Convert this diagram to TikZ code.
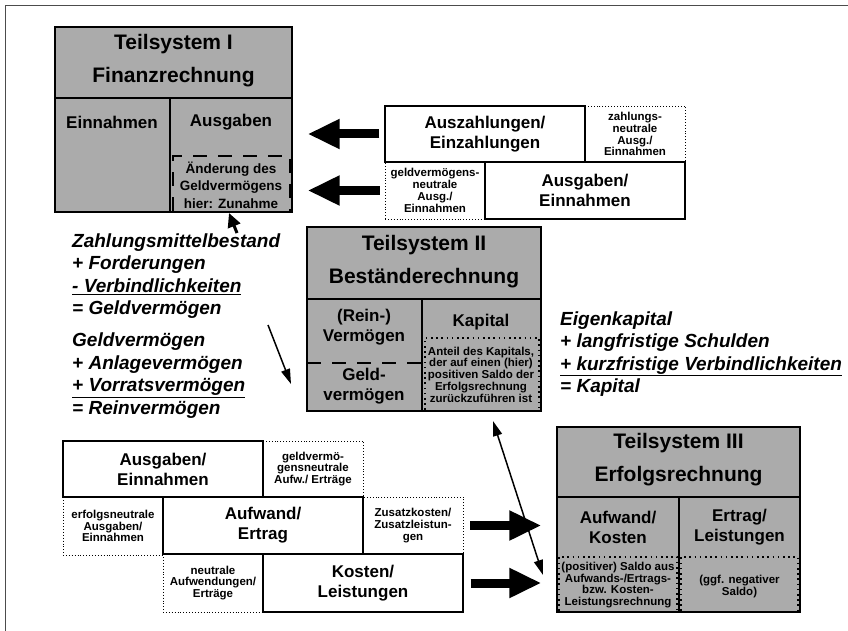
\documentclass[tikz,border=0pt]{standalone}
\usepackage{fontspec}
\setmainfont{Liberation Sans}
\usetikzlibrary{arrows.meta,positioning}
\tikzset{%
  sysbox/.style={draw, line width=1.4pt, fill=black!33, inner sep=0pt},
  solidbox/.style={draw, line width=1.1pt, fill=white, inner sep=0pt},
  dotbox/.style={draw, dotted, line width=0.9pt, inner sep=0pt},
  title/.style={font=\bfseries\fontsize{21}{33}\selectfont, align=center, inner sep=0pt},
  big/.style={font=\bfseries\fontsize{17}{20}\selectfont, align=center},
  mid/.style={font=\bfseries\fontsize{13.5}{17.5}\selectfont, align=center, inner sep=0pt},
  small/.style={font=\bfseries\fontsize{11.5}{11.8}\selectfont, align=center},
  calc/.style={font=\bfseries\itshape\fontsize{19}{22.5}\selectfont, align=left, anchor=west, inner sep=0pt},
  divline/.style={line width=1.4pt},
  dashline/.style={line width=1.8pt, dash pattern=on 14pt off 11pt},
  dotline/.style={line width=1.6pt, dash pattern=on 1.6pt off 3.6pt},
  fat arrow/.style={line width=9pt, -{Triangle[length=32pt,width=28pt]}},
  thin arrow/.style={line width=1.5pt, -{Triangle[length=15pt,width=9pt]}},
  stub arrow/.style={line width=3pt, -{Triangle[length=14pt,width=13pt]}}
}
\begin{document}
\begin{tikzpicture}[x=1pt,y=-1pt]
\useasboundingbox (0,0) rectangle (848,631);
\draw[black!70, line width=1pt] (5,631) -- (5,6) -- (848,6);

% Teilsystem I
\node[sysbox, minimum width=237pt, minimum height=185pt] (ts1) at (173.5,119.5) {};
\draw[divline] (55,98) -- (292,98);
\draw[divline] (170,98) -- (170,212);
\draw[dashline] (173,211) -- (173,156) -- (290,156) -- (290,211);
\node[title] (ts1t) at (173.5,61) {Teilsystem I\\Finanzrechnung};
\node[big] (ein1) at (112,122) {Einnahmen};
\node[big] (aus1) at (231,122) {Ausgaben};
\node[mid] (aend) at (231,185) {Änderung des\\Geldvermögens\\hier: Zunahme};

% boxes right of Teilsystem I
\node[solidbox, minimum width=200pt, minimum height=56pt, big] (auszahl) at (485,134) {Auszahlungen/\\Einzahlungen};
\node[dotbox, minimum width=100pt, minimum height=56pt, small] (zneutral) at (635,134) {zahlungs-\\neutrale\\Ausg./\\Einnahmen};
\node[dotbox, minimum width=100pt, minimum height=57pt, small] (gneutral) at (435,190.5) {geldvermögens-\\neutrale\\Ausg./\\Einnahmen};
\node[solidbox, minimum width=200pt, minimum height=57pt, big] (ausein) at (585,190.5) {Ausgaben/\\Einnahmen};

\draw[fat arrow, shorten <=5pt, shorten >=15pt] (auszahl.west) -- (auszahl.west -| ts1.east);
\draw[fat arrow, shorten <=5pt, shorten >=15pt] (gneutral.west) -- (gneutral.west -| ts1.east);

% Teilsystem II
\node[sysbox, minimum width=234pt, minimum height=184pt] (ts2) at (424,319) {};
\draw[divline] (307,299) -- (541,299);
\draw[divline] (422,299) -- (422,411);
\draw[dashline] (307,363) -- (422,363);
\draw[dotline] (425,410) -- (425,338) -- (539,338) -- (539,410);
\node[title] (ts2t) at (424,261.5) {Teilsystem II\\Beständerechnung};
\node[big] (rein) at (364,327.5) {(Rein-)\\Vermögen};
\node[big] (geld) at (364,386.5) {Geld-\\vermögen};
\node[big] (kap) at (481,322) {Kapital};
\node[small, inner sep=0pt] (anteil) at (481,374.5) {Anteil des Kapitals,\\der auf einen (hier)\\positiven Saldo der\\Erfolgsrechnung\\zurückzuführen ist};

% calculations
\node[calc] (geldv) at (72,276) {Zahlungsmittelbestand\\+ Forderungen\\\underline{- Verbindlichkeiten}\\= Geldvermögen};
\node[calc] (reinv) at (72,375.5) {Geldvermögen\\+ Anlagevermögen\\\underline{+ Vorratsvermögen}\\= Reinvermögen};
\node[calc] (kapital) at (560,354) {Eigenkapital\\+ langfristige Schulden\\\underline{+ kurzfristige Verbindlichkeiten}\\= Kapital};

\coordinate (upfoot) at (237,233);
\coordinate (uptip) at (229,213);
\draw[stub arrow] (upfoot) -- (uptip);
\coordinate (vtail) at (268,325);
\coordinate (vtip) at (291,384);
\draw[thin arrow] (vtail) -- (vtip);

% boxes left of Teilsystem III
\node[dotbox, minimum width=100pt, minimum height=56pt, small] (bgneutral) at (313,469) {geldvermö-\\gensneutrale\\Aufw./ Erträge};
\node[dotbox, minimum width=100pt, minimum height=58pt, small] (erfneutral) at (113,526) {erfolgsneutrale\\Ausgaben/\\Einnahmen};
\node[dotbox, minimum width=100pt, minimum height=57pt, small] (zusatz) at (413,525.5) {Zusatzkosten/\\Zusatzleistun-\\gen};
\node[dotbox, minimum width=100pt, minimum height=58pt, small] (neutral) at (213,583) {neutrale\\Aufwendungen/\\Erträge};
\node[solidbox, minimum width=200pt, minimum height=56pt, big] (bausein) at (163,469) {Ausgaben/\\Einnahmen};
\node[solidbox, minimum width=200pt, minimum height=57pt, big] (aufertrag) at (263,525.5) {Aufwand/\\Ertrag};
\node[solidbox, minimum width=200pt, minimum height=58pt, big] (kostlei) at (363,583) {Kosten/\\Leistungen};

% Teilsystem III
\node[sysbox, minimum width=243pt, minimum height=185pt] (ts3) at (678.5,519.5) {};
\draw[divline] (557,497) -- (800,497);
\draw[divline] (679,497) -- (679,612);
\draw[dotline] (559,611) -- (559,557) -- (677,557) -- (677,611);
\draw[dotline] (681,611) -- (681,557) -- (798,557) -- (798,611);
\node[title] (ts3t) at (678.5,460) {Teilsystem III\\Erfolgsrechnung};
\node[big] (aufko) at (618,527.5) {Aufwand/\\Kosten};
\node[big] (erle) at (739.5,527.5) {Ertrag/\\Leistungen};
\node[small, inner sep=0pt] (psaldo) at (618,585) {(positiver) Saldo aus\\Aufwands-/Ertrags-\\bzw. Kosten-\\Leistungsrechnung};
\node[small] (nsaldo) at (739.5,586.5) {(ggf. negativer\\Saldo)};

\draw[fat arrow, shorten <=7pt, shorten >=15pt] (zusatz.east) -- (zusatz.east -| ts3.west);
\draw[fat arrow, shorten <=7pt, shorten >=15pt] (kostlei.east) -- (kostlei.east -| ts3.west);

\coordinate (dtop) at (493,421);
\coordinate (dbot) at (543,575);
\draw[thin arrow, {Triangle[length=15pt,width=9pt]}-{Triangle[length=15pt,width=9pt]}] (dtop) -- (dbot);
\end{tikzpicture}
\end{document}
